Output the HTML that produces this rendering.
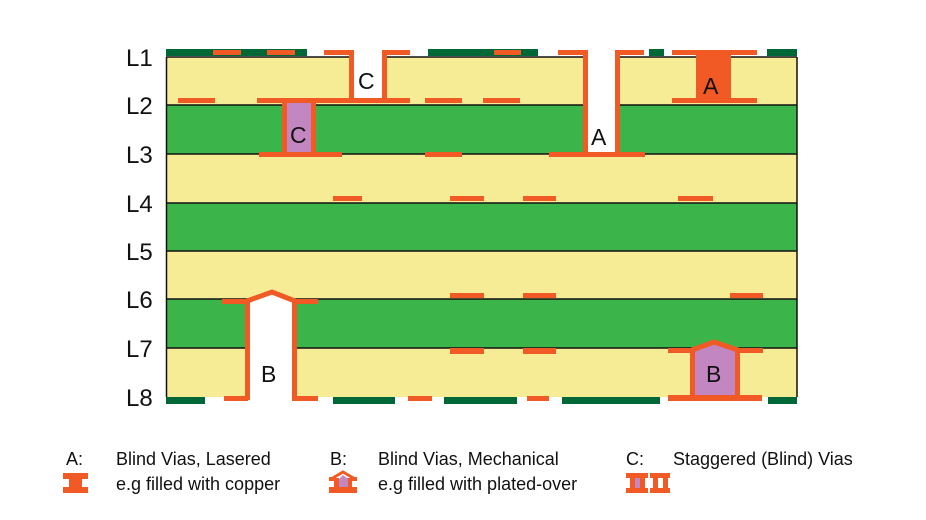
<!DOCTYPE html>
<html><head><meta charset="utf-8"><style>
html,body{margin:0;padding:0;background:#fff}
svg{display:block}
text{font-family:"Liberation Sans",sans-serif}
</style></head><body>
<svg width="926" height="520" viewBox="0 0 926 520" xmlns="http://www.w3.org/2000/svg">
<rect x="166" y="57" width="631" height="48" fill="#f6ec96"/>
<rect x="166" y="105" width="631" height="49" fill="#3bb54a"/>
<rect x="166" y="154" width="631" height="49" fill="#f6ec96"/>
<rect x="166" y="203" width="631" height="48" fill="#3bb54a"/>
<rect x="166" y="251" width="631" height="48" fill="#f6ec96"/>
<rect x="166" y="299" width="631" height="49" fill="#3bb54a"/>
<rect x="166" y="348" width="631" height="49" fill="#f6ec96"/>
<g stroke="#111" stroke-width="1.5">
<line x1="166" y1="57" x2="797" y2="57"/><line x1="166" y1="105" x2="797" y2="105"/>
<line x1="166" y1="154" x2="797" y2="154"/><line x1="166" y1="203" x2="797" y2="203"/>
<line x1="166" y1="251" x2="797" y2="251"/><line x1="166" y1="299" x2="797" y2="299"/>
<line x1="166" y1="348" x2="797" y2="348"/>
<line x1="166.5" y1="57" x2="166.5" y2="397"/><line x1="797" y1="57" x2="797" y2="397"/>
</g>
<g fill="#006837">
<rect x="166" y="49" width="141" height="7"/><rect x="428" y="49" width="110" height="7"/>
<rect x="649" y="49" width="15" height="7"/><rect x="767" y="49" width="30" height="7"/>
<rect x="166" y="397" width="39" height="7"/><rect x="333" y="397" width="62" height="7"/>
<rect x="444" y="397" width="73" height="7"/><rect x="562" y="397" width="98" height="7"/>
<rect x="768" y="397" width="29" height="7"/>
</g>
<rect x="353" y="50" width="30" height="48" fill="#fff"/>
<rect x="588" y="50" width="27" height="103" fill="#fff"/>
<rect x="250" y="300" width="43" height="98" fill="#fff"/>
<polygon points="250,300 272,292 293,300" fill="#fff"/>
<rect x="287" y="101" width="24" height="52" fill="#c286c0"/>
<polygon points="695,350 714,343 735,350 735,397 695,397" fill="#c286c0"/>
<g fill="#f15a24">
<rect x="213" y="50" width="28" height="5"/><rect x="267" y="50" width="28" height="5"/>
<rect x="324" y="50" width="29" height="5"/><rect x="382" y="50" width="28" height="5"/>
<rect x="494" y="50" width="27" height="5"/><rect x="558" y="50" width="30" height="5"/>
<rect x="615" y="50" width="29" height="5"/><rect x="672" y="50" width="85" height="5"/>
<rect x="349" y="50" width="5" height="51"/><rect x="382" y="50" width="5" height="51"/>
<rect x="178" y="98" width="37" height="5"/><rect x="257" y="98" width="153" height="5"/>
<rect x="425" y="98" width="37" height="5"/><rect x="483" y="98" width="37" height="5"/>
<rect x="672" y="98" width="85" height="5"/><rect x="696" y="52" width="35" height="48"/>
<rect x="282" y="100" width="5" height="55"/><rect x="311" y="100" width="5" height="55"/>
<rect x="259" y="152" width="83" height="5"/><rect x="425" y="152" width="37" height="5"/>
<rect x="583" y="50" width="5" height="105"/><rect x="615" y="50" width="5" height="105"/>
<rect x="549" y="152" width="96" height="5"/>
<rect x="333" y="196" width="29" height="5"/><rect x="450" y="196" width="34" height="5"/>
<rect x="523" y="196" width="33" height="5"/><rect x="678" y="196" width="35" height="5"/>
<rect x="450" y="293" width="34" height="5"/><rect x="523" y="293" width="33" height="5"/>
<rect x="730" y="293" width="33" height="5"/>
<rect x="222" y="299" width="27" height="5"/><rect x="292" y="299" width="26" height="5"/>
<rect x="245" y="300" width="5" height="100"/><rect x="292" y="300" width="5" height="100"/>
<rect x="450" y="348" width="34" height="6"/><rect x="523" y="348" width="33" height="6"/>
<rect x="668" y="348" width="27" height="5"/><rect x="735" y="348" width="28" height="5"/>
<rect x="690" y="350" width="5" height="48"/><rect x="735" y="350" width="5" height="48"/>
<rect x="224" y="396" width="24" height="5"/><rect x="292" y="396" width="26" height="5"/>
<rect x="408" y="396" width="24" height="5"/><rect x="527" y="396" width="22" height="5"/>
<rect x="668" y="395" width="94" height="6"/>
</g>
<g fill="none" stroke="#f15a24" stroke-width="5">
<polyline points="247,301 272,292 295,301"/>
<polyline points="692,350 714,342 738,350"/>
</g>
<g font-size="23" fill="#111">
<text x="358" y="89">C</text><text x="290" y="143">C</text>
<text x="591" y="145">A</text><text x="703" y="94">A</text>
<text x="261" y="382">B</text><text x="706" y="382">B</text>
</g>
<g font-size="24" fill="#111">
<text x="126" y="66">L1</text><text x="126" y="114">L2</text><text x="126" y="163">L3</text>
<text x="126" y="212">L4</text><text x="126" y="260">L5</text><text x="126" y="308">L6</text>
<text x="126" y="357">L7</text><text x="126" y="406">L8</text>
</g>
<g font-size="18" fill="#111">
<text x="66" y="465">A:</text><text x="116" y="465">Blind Vias, Lasered</text>
<text x="116" y="490">e.g filled with copper</text>
<text x="330" y="465">B:</text><text x="378" y="465">Blind Vias, Mechanical</text>
<text x="378" y="490">e.g filled with plated-over</text>
<text x="626" y="465">C:</text><text x="673" y="465">Staggered (Blind) Vias</text>
</g>
<g fill="#f15a24">
<rect x="63" y="473" width="25" height="6"/><rect x="69" y="473" width="13" height="20"/><rect x="63" y="487" width="25" height="6"/>
<rect x="329" y="487" width="28" height="6"/><rect x="329" y="477" width="7" height="4"/><rect x="350" y="477" width="7" height="4"/>
<rect x="334" y="478" width="5" height="12"/><rect x="347" y="478" width="5" height="12"/>
<rect x="626" y="473" width="22" height="5"/><rect x="626" y="488" width="22" height="5"/>
<rect x="630" y="473" width="5" height="20"/><rect x="640" y="473" width="5" height="20"/>
<rect x="650" y="473" width="20" height="5"/><rect x="650" y="488" width="20" height="5"/>
<rect x="653" y="473" width="5" height="20"/><rect x="663" y="473" width="5" height="20"/>
</g>
<polygon points="339,479 343,475 348,479 348,487 339,487" fill="#c286c0"/>
<polyline points="331,479 343,472 355,479" fill="none" stroke="#f15a24" stroke-width="3"/>
<rect x="635" y="478" width="5" height="10" fill="#c286c0"/>
</svg>
</body></html>
